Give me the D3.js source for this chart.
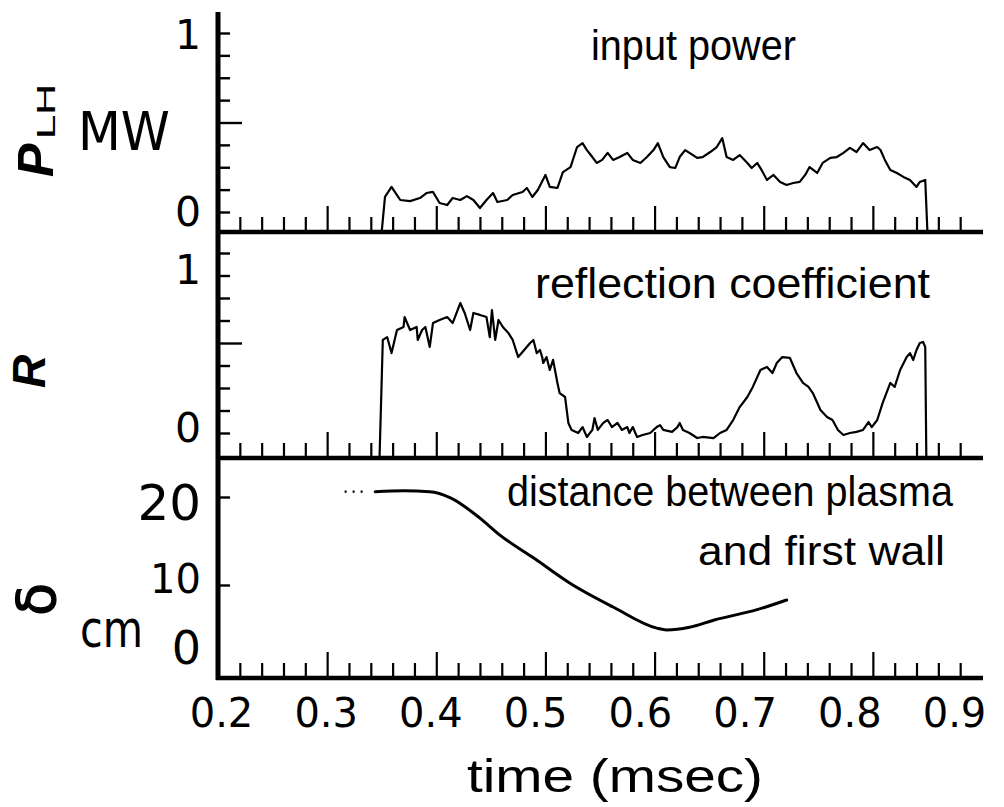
<!DOCTYPE html>
<html><head><meta charset="utf-8">
<script src="https://cdn.jsdelivr.net/npm/d3@7/dist/d3.min.js"></script>
<style>body{margin:0;background:#fff}svg{display:block}</style>
</head><body>
<svg id="c" width="1004" height="807"></svg>
<script>
// ---------- data ----------
const timeMajor = [0.2,0.3,0.4,0.5,0.6,0.7,0.8,0.9];
const timeLabels = ["0.2","0.3","0.4","0.5","0.6","0.7","0.8","0.9"];
const powerTicks = [0,0.125,0.25,0.375,0.5,0.625,0.75,0.875,1];
const powerLabels = ["0","1"];
const reflTicks = [0,0.125,0.25,0.375,0.5,0.625,0.75,0.875,1];
const reflLabels = ["0","1"];
const deltaTicks = [10,20];
const deltaLabels = ["0","10","20"];

// input power P_LH (MW) vs time (msec)
const inputPower = [[0.350,-0.11],[0.353,0.084],[0.359,0.140],[0.367,0.067],[0.376,0.061],[0.385,0.078],[0.391,0.106],[0.397,0.112],[0.403,0.050],[0.410,0.039],[0.415,0.078],[0.422,0.067],[0.428,0.089],[0.434,0.067],[0.440,0.022],[0.446,0.067],[0.452,0.106],[0.456,0.056],[0.465,0.067],[0.470,0.095],[0.479,0.112],[0.483,0.134],[0.488,0.084],[0.493,0.123],[0.500,0.207],[0.504,0.140],[0.511,0.134],[0.516,0.223],[0.523,0.251],[0.529,0.363],[0.534,0.385],[0.538,0.346],[0.543,0.307],[0.547,0.274],[0.552,0.291],[0.557,0.330],[0.562,0.291],[0.568,0.307],[0.575,0.330],[0.580,0.291],[0.587,0.274],[0.593,0.307],[0.599,0.346],[0.603,0.385],[0.608,0.307],[0.614,0.251],[0.619,0.246],[0.623,0.307],[0.628,0.346],[0.632,0.330],[0.639,0.302],[0.644,0.307],[0.651,0.335],[0.657,0.363],[0.662,0.413],[0.666,0.307],[0.672,0.291],[0.678,0.318],[0.685,0.274],[0.689,0.246],[0.694,0.274],[0.698,0.235],[0.703,0.179],[0.709,0.207],[0.715,0.168],[0.721,0.151],[0.727,0.162],[0.733,0.168],[0.738,0.207],[0.742,0.251],[0.749,0.218],[0.754,0.274],[0.761,0.302],[0.767,0.307],[0.773,0.330],[0.779,0.358],[0.785,0.335],[0.791,0.385],[0.797,0.346],[0.804,0.363],[0.807,0.346],[0.811,0.291],[0.816,0.235],[0.822,0.218],[0.828,0.196],[0.834,0.179],[0.840,0.140],[0.843,0.168],[0.848,0.179],[0.850,-0.11]];

// reflection coefficient R vs time
const reflection = [[0.348,-0.139],[0.351,0.517],[0.355,0.533],[0.359,0.444],[0.364,0.572],[0.370,0.589],[0.371,0.644],[0.376,0.572],[0.382,0.589],[0.383,0.517],[0.387,0.572],[0.390,0.589],[0.394,0.478],[0.397,0.611],[0.403,0.628],[0.410,0.644],[0.415,0.611],[0.422,0.722],[0.426,0.667],[0.431,0.572],[0.434,0.667],[0.440,0.656],[0.446,0.644],[0.449,0.533],[0.451,0.683],[0.454,0.517],[0.457,0.628],[0.461,0.589],[0.466,0.556],[0.470,0.517],[0.475,0.422],[0.479,0.450],[0.486,0.500],[0.489,0.517],[0.492,0.444],[0.495,0.461],[0.497,0.422],[0.498,0.389],[0.501,0.422],[0.504,0.350],[0.507,0.406],[0.511,0.278],[0.513,0.222],[0.518,0.200],[0.521,0.056],[0.524,0.017],[0.530,0.000],[0.534,0.033],[0.538,-0.022],[0.543,0.017],[0.545,0.083],[0.548,0.017],[0.553,0.056],[0.557,0.072],[0.561,0.033],[0.566,0.056],[0.570,0.017],[0.575,0.033],[0.577,0.000],[0.580,0.033],[0.584,-0.022],[0.589,-0.011],[0.596,0.000],[0.599,0.017],[0.602,0.033],[0.605,0.044],[0.608,0.017],[0.616,0.006],[0.621,0.033],[0.623,0.056],[0.626,0.017],[0.632,0.000],[0.639,-0.028],[0.644,-0.022],[0.654,-0.028],[0.660,0.000],[0.666,0.017],[0.672,0.072],[0.678,0.144],[0.685,0.200],[0.690,0.256],[0.697,0.350],[0.703,0.367],[0.708,0.333],[0.712,0.389],[0.717,0.422],[0.724,0.417],[0.730,0.333],[0.736,0.278],[0.741,0.256],[0.745,0.222],[0.752,0.128],[0.758,0.089],[0.763,0.072],[0.768,0.017],[0.773,-0.011],[0.779,0.000],[0.785,0.006],[0.791,0.017],[0.796,0.061],[0.799,0.033],[0.804,0.072],[0.809,0.167],[0.816,0.278],[0.820,0.256],[0.825,0.350],[0.831,0.422],[0.834,0.444],[0.837,0.406],[0.840,0.461],[0.843,0.500],[0.846,0.506],[0.848,0.478],[0.849,-0.139]];

// distance between plasma and first wall (cm)
const distance = [[0.344,20.6],[0.370,20.7],[0.394,20.6],[0.413,19.9],[0.440,17.6],[0.458,15.7],[0.490,13.0],[0.5225,10.2],[0.562,7.5],[0.602,5.1],[0.611,4.9],[0.632,5.2],[0.654,6.0],[0.694,7.2],[0.721,8.3]];
const distanceDotted = [[0.316,20.6],[0.338,20.6]];

// ---------- drawing ----------
const svg = d3.select("#c");
svg.append("rect").attr("width",1004).attr("height",807).attr("fill","#fff");
const NUM = "'DejaVu Sans', sans-serif";
const TXT = "'Liberation Sans', Arial, sans-serif";

const x = d3.scaleLinear().domain([0.2,0.9]).range([218,982]);
// the hand-lettered tick labels sit on a slightly narrower spacing than the ticks
const xLab = d3.scaleLinear().domain([0.2,0.9]).range([221,954]);
const yP = d3.scaleLinear().domain([0,1]).range([212,33]);
const yR = d3.scaleLinear().domain([0,1]).range([433,253]);
const yD = d3.scaleLinear().domain([0,20]).range([673,497]);

const panels = [
  {y:yP, base:232},
  {y:yR, base:458},
  {y:yD, base:678}
];

const minorT = d3.range(0.22, 0.885, 0.02).filter(t => Math.abs(Math.round(t*10)-t*10) > 1e-6);
const majorT = timeMajor.filter(t => t > 0.25 && t < 0.85);

panels.forEach(p => {
  const gMin = svg.append("g").attr("transform",`translate(0,${p.base})`)
    .call(d3.axisTop(x).tickValues(minorT).tickSize(15).tickFormat(""));
  const gMaj = svg.append("g").attr("transform",`translate(0,${p.base})`)
    .call(d3.axisTop(x).tickValues(majorT).tickSize(26).tickFormat(""));
  [gMin,gMaj].forEach(g => {
    g.select(".domain").remove();
    g.selectAll("line").attr("stroke","#000").attr("stroke-width",2.2);
  });
  svg.append("line").attr("x1",216).attr("x2",983)
    .attr("y1",p.base).attr("y2",p.base)
    .attr("stroke","#000").attr("stroke-width",4.5);
});

// vertical axis
svg.append("line").attr("x1",218).attr("x2",218).attr("y1",12).attr("y2",680)
  .attr("stroke","#000").attr("stroke-width",5);

// y ticks
function yTicks(scale, vals, major) {
  const gMin = svg.append("g").attr("transform","translate(218,0)")
    .call(d3.axisRight(scale).tickValues(vals.filter(v => !major.includes(v))).tickSize(12).tickFormat(""));
  const gMaj = svg.append("g").attr("transform","translate(218,0)")
    .call(d3.axisRight(scale).tickValues(major).tickSize(24).tickFormat(""));
  [gMin,gMaj].forEach(g => {
    g.select(".domain").remove();
    g.selectAll("line").attr("stroke","#000").attr("stroke-width",2.4);
  });
}
yTicks(yP, powerTicks, [0.5]);
yTicks(yR, reflTicks, [0.5]);
yTicks(yD, deltaTicks, []);

// y tick labels
function yLabel(scale, lab, dy, size) {
  svg.append("text").attr("x",201).attr("y",scale(+lab)+dy)
    .attr("text-anchor","end").attr("dominant-baseline","central")
    .attr("font-family",NUM).attr("font-size",size).attr("fill","#000").text(lab);
}
yLabel(yP, powerLabels[0], 0, 41);
yLabel(yP, powerLabels[1], 2, 41);
yLabel(yR, reflLabels[0], -5, 41);
yLabel(yR, reflLabels[1], 17, 41);
yLabel(yD, deltaLabels[0], -25, 46);
yLabel(yD, deltaLabels[1], -6, 40);
yLabel(yD, deltaLabels[2], 6, 50);

// x tick labels (bottom)
const gx = svg.append("g").attr("transform","translate(0,678)")
  .call(d3.axisBottom(xLab).tickValues(timeMajor).tickSize(0).tickPadding(21)
    .tickFormat((d,i) => timeLabels[i]));
gx.select(".domain").remove();
gx.selectAll("text").attr("font-family",NUM).attr("font-size",40).attr("fill","#000");

// data lines
const lineP = d3.line().x(d => x(d[0])).y(d => yP(d[1]));
const lineR = d3.line().x(d => x(d[0])).y(d => yR(d[1]));
const lineD = d3.line().x(d => x(d[0])).y(d => yD(d[1])).curve(d3.curveMonotoneX);

svg.append("path").attr("d",lineP(inputPower)).attr("fill","none")
  .attr("stroke","#000").attr("stroke-width",2.2).attr("stroke-linejoin","round");
svg.append("path").attr("d",lineR(reflection)).attr("fill","none")
  .attr("stroke","#000").attr("stroke-width",2.2).attr("stroke-linejoin","round");
svg.append("path").attr("d",lineD(distance)).attr("fill","none")
  .attr("stroke","#000").attr("stroke-width",3).attr("stroke-linecap","round");
svg.append("path").attr("d",d3.line().x(d => x(d[0])).y(d => yD(d[1]))(distanceDotted))
  .attr("fill","none").attr("stroke","#000").attr("stroke-width",2.2)
  .attr("stroke-dasharray","2,6");

// annotation texts
function txt(s, x0, y0, w, size) {
  svg.append("text").attr("x",x0).attr("y",y0)
    .attr("font-family",TXT).attr("font-size",size).attr("fill","#000")
    .attr("textLength",w).attr("lengthAdjust","spacingAndGlyphs").text(s);
}
txt("input power", 591, 60, 205, 42);
txt("reflection coefficient", 535, 298, 395, 42);
txt("distance between plasma", 507, 506, 446, 42);
txt("and first wall", 698, 565, 247, 40);
txt("time (msec)", 467, 792, 296, 46);

// axis titles
svg.append("text").attr("x",78).attr("y",150).attr("font-family",NUM)
  .attr("font-size",54).attr("textLength",92).attr("lengthAdjust","spacingAndGlyphs").text("MW");
svg.append("text").attr("transform","translate(53,177) rotate(-90)")
  .attr("font-family",TXT).attr("font-weight","bold").attr("font-style","italic")
  .attr("font-size",50).text("P");
svg.append("text").attr("transform","translate(55,140) rotate(-90)")
  .attr("font-family",NUM).attr("font-size",24)
  .attr("textLength",57).attr("lengthAdjust","spacingAndGlyphs").text("LH");
svg.append("text").attr("transform","translate(45,388) rotate(-90)")
  .attr("font-family",TXT).attr("font-weight","bold").attr("font-style","italic")
  .attr("font-size",46).text("R");
svg.append("text").attr("transform","translate(55,616) rotate(-90)")
  .attr("font-family",NUM).attr("font-size",54)
  .attr("stroke","#000").attr("stroke-width",1.2).text("δ");
svg.append("text").attr("x",80).attr("y",647).attr("font-family",NUM)
  .attr("font-size",52).attr("textLength",63).attr("lengthAdjust","spacingAndGlyphs").text("cm");
</script>
</body></html>
